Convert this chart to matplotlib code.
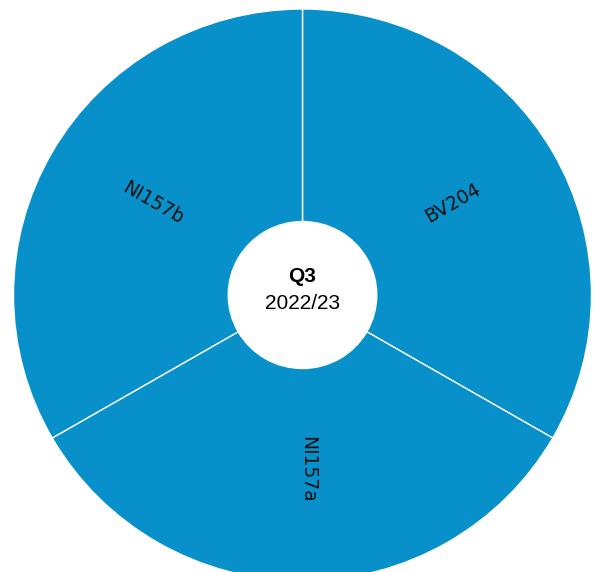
import numpy as np
import matplotlib.pyplot as plt

labels = ['BV204', 'NI157a', 'NI157b']
values = [1, 1, 1]
center_title = 'Q3'
center_sub = '2022/23'

blue = '#0790c9'

W, H = 598, 572
Rx, Ry = 289.0, 286.0   # outer radius in px (x / y)
cx, cy = 302.5, 295.0   # centre in px from top-left

fig = plt.figure(figsize=(W / 100, H / 100), dpi=100)
ax = fig.add_axes([0, 0, 1, 1])

wedges, _ = ax.pie(values, colors=[blue] * len(values), startangle=90,
                   counterclock=False, radius=1,
                   wedgeprops=dict(width=1 - 74 / 288, edgecolor='white',
                                   linewidth=1.0))

# labels along the radial direction, middle of each wedge
for w, lab in zip(wedges, labels):
    ang = (w.theta1 + w.theta2) / 2
    c = np.cos(np.deg2rad(ang))
    x = 0.61 * c
    y = 0.61 * np.sin(np.deg2rad(ang))
    if abs(c) < 1e-6:
        rot = 270
    elif c > 0:
        rot = ang
    else:
        rot = ang + 180
    ax.text(x, y, lab, rotation=rot % 360, rotation_mode='anchor',
            ha='center', va='baseline', fontsize=13.5, color='#111111',
            family='DejaVu Sans')

ax.text(0, 0.065, center_title, ha='center', va='center', fontsize=15,
        fontweight='bold', family='Liberation Sans')
ax.text(0, -0.03, center_sub, ha='center', va='center', fontsize=15,
        family='Liberation Sans')

ax.set_xlim(-cx / Rx, (W - cx) / Rx)
ax.set_ylim(-(H - cy) / Ry, cy / Ry)
ax.set_aspect('auto')
ax.axis('off')

fig.savefig('out.png', dpi=100)
